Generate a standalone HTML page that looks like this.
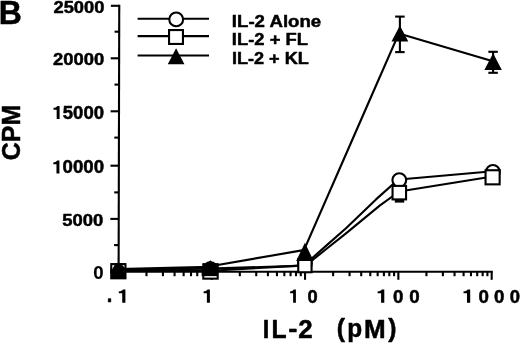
<!DOCTYPE html>
<html><head><meta charset="utf-8"><style>
html,body{margin:0;padding:0;background:#fff;width:520px;height:344px;overflow:hidden}
svg{display:block;will-change:transform}
</style></head><body>
<svg width="520" height="344" viewBox="0 0 520 344">
<rect width="520" height="344" fill="#fff"/>
<g stroke="#000" stroke-width="2.1" fill="none" stroke-linecap="butt">
<line x1="119.25" y1="4.75" x2="118.6" y2="272.8" />
<line x1="118" y1="271.8" x2="492.8" y2="271.8" />
<line x1="110.85" y1="5.8" x2="119.25" y2="5.8" />
<line x1="110.72" y1="58.3" x2="119.12" y2="58.3" />
<line x1="110.59" y1="111.3" x2="118.99" y2="111.3" />
<line x1="110.46" y1="165.7" x2="118.86" y2="165.7" />
<line x1="110.33" y1="218.9" x2="118.73" y2="218.9" />
<line x1="110.20" y1="272" x2="118.60" y2="272" />
<line x1="114.58" y1="31.7" x2="119.18" y2="31.7" />
<line x1="114.46" y1="84.6" x2="119.06" y2="84.6" />
<line x1="114.33" y1="137.6" x2="118.93" y2="137.6" />
<line x1="114.19" y1="192.4" x2="118.79" y2="192.4" />
<line x1="114.07" y1="245.1" x2="118.67" y2="245.1" />
<line x1="211.72" y1="271.8" x2="211.72" y2="279.8" />
<line x1="305.04" y1="271.8" x2="305.04" y2="279.8" />
<line x1="398.36" y1="271.8" x2="398.36" y2="279.8" />
<line x1="491.68" y1="271.8" x2="491.68" y2="279.8" />
<line x1="146.49" y1="271.8" x2="146.49" y2="276.2" />
<line x1="162.92" y1="271.8" x2="162.92" y2="276.2" />
<line x1="174.58" y1="271.8" x2="174.58" y2="276.2" />
<line x1="183.63" y1="271.8" x2="183.63" y2="276.2" />
<line x1="191.02" y1="271.8" x2="191.02" y2="276.2" />
<line x1="197.26" y1="271.8" x2="197.26" y2="276.2" />
<line x1="202.68" y1="271.8" x2="202.68" y2="276.2" />
<line x1="207.45" y1="271.8" x2="207.45" y2="276.2" />
<line x1="239.81" y1="271.8" x2="239.81" y2="276.2" />
<line x1="256.24" y1="271.8" x2="256.24" y2="276.2" />
<line x1="267.90" y1="271.8" x2="267.90" y2="276.2" />
<line x1="276.95" y1="271.8" x2="276.95" y2="276.2" />
<line x1="284.34" y1="271.8" x2="284.34" y2="276.2" />
<line x1="290.58" y1="271.8" x2="290.58" y2="276.2" />
<line x1="296.00" y1="271.8" x2="296.00" y2="276.2" />
<line x1="300.77" y1="271.8" x2="300.77" y2="276.2" />
<line x1="333.13" y1="271.8" x2="333.13" y2="276.2" />
<line x1="349.56" y1="271.8" x2="349.56" y2="276.2" />
<line x1="361.22" y1="271.8" x2="361.22" y2="276.2" />
<line x1="370.27" y1="271.8" x2="370.27" y2="276.2" />
<line x1="377.66" y1="271.8" x2="377.66" y2="276.2" />
<line x1="383.90" y1="271.8" x2="383.90" y2="276.2" />
<line x1="389.32" y1="271.8" x2="389.32" y2="276.2" />
<line x1="394.09" y1="271.8" x2="394.09" y2="276.2" />
<line x1="426.45" y1="271.8" x2="426.45" y2="276.2" />
<line x1="442.88" y1="271.8" x2="442.88" y2="276.2" />
<line x1="454.54" y1="271.8" x2="454.54" y2="276.2" />
<line x1="463.59" y1="271.8" x2="463.59" y2="276.2" />
<line x1="470.98" y1="271.8" x2="470.98" y2="276.2" />
<line x1="477.22" y1="271.8" x2="477.22" y2="276.2" />
<line x1="482.64" y1="271.8" x2="482.64" y2="276.2" />
<line x1="487.41" y1="271.8" x2="487.41" y2="276.2" />
<line x1="137.6" y1="18.7" x2="209" y2="18.7" />
<line x1="137.6" y1="36.1" x2="209" y2="36.1" />
<line x1="137.6" y1="55.5" x2="209" y2="55.5" />
</g>
<g stroke="#000" stroke-width="2.1" fill="none" stroke-linejoin="round">
<polyline fill="none" points="118.3,269.8 210.4,268.6 304.9,265.6" />
<polyline fill="none" points="304.9,264.6 326,245.9 346,228.3 376,199.4 399.4,178.5" />
<polyline fill="none" points="399.4,179.5 492.9,171.3" />
<polyline fill="none" points="118.3,270.5 210.4,270.8 304.9,265.4" />
<polyline fill="none" points="304.9,266.0 326,249.3 346,233.4 380,205.4 399.3,191.5" />
<polyline fill="none" points="399.2,191.5 492.6,176.5" />
<polyline fill="none" points="118.3,269.0 210.4,266.8" />
<polyline fill="none" points="210.4,266.2 304.9,249.9" />
<polyline fill="none" points="304.9,248.0 399.7,31.5" />
<polyline fill="none" points="399.7,33.8 492.9,61.3" />
</g>
<g stroke="#000" stroke-width="2.1" fill="none">
<line x1="399.9" y1="16.6" x2="399.9" y2="52.1" /><line x1="395.15" y1="16.6" x2="404.65" y2="16.6" /><line x1="395.15" y1="52.1" x2="404.65" y2="52.1" />
<line x1="493.1" y1="51.8" x2="493.1" y2="72.8" /><line x1="488.35" y1="51.8" x2="497.85" y2="51.8" /><line x1="488.35" y1="72.8" x2="497.85" y2="72.8" />
<rect x="394.8" y="199.4" width="9.4" height="3.2" fill="#000" stroke="none"/>
</g>
<circle cx="118.3" cy="270.8" r="6.9" fill="#fff" stroke="#000" stroke-width="2.1"/>
<circle cx="210.4" cy="269.2" r="6.9" fill="#fff" stroke="#000" stroke-width="2.1"/>
<circle cx="304.9" cy="263.5" r="6.9" fill="#fff" stroke="#000" stroke-width="2.1"/>
<circle cx="399.3" cy="180.1" r="6.9" fill="#fff" stroke="#000" stroke-width="2.1"/>
<circle cx="492.9" cy="171.9" r="6.9" fill="#fff" stroke="#000" stroke-width="2.1"/>
<rect x="111.25" y="264.10" width="14.20" height="14.20" fill="#fff" stroke="#000" stroke-width="2.1"/>
<rect x="203.30" y="264.25" width="14.40" height="14.40" fill="#fff" stroke="#000" stroke-width="2.1"/>
<rect x="298.25" y="258.95" width="13.30" height="13.30" fill="#fff" stroke="#000" stroke-width="2.1"/>
<rect x="392.55" y="185.90" width="13.50" height="13.50" fill="#fff" stroke="#000" stroke-width="2.1"/>
<rect x="485.55" y="170.25" width="14.10" height="14.10" fill="#fff" stroke="#000" stroke-width="2.1"/>
<polygon points="115.2,264.0 121.3,264.0 125.5,268.6 125.5,278.5 111.2,278.5 111.2,270.8" fill="#000"/>
<rect x="203.2" y="263.5" width="14.6" height="12.6" fill="#000"/>
<polygon points="210.3,260.2 203.3,268 217.3,268" fill="#000"/>
<polygon points="304.9,242.8 296.15,261.0 313.65,261.0" fill="#000"/>
<polygon points="399.9,25.5 391.5,41.6 408.29999999999995,41.6" fill="#000"/>
<polygon points="493.1,53.2 484.35,69.9 501.85,69.9" fill="#000"/>
<circle cx="176.2" cy="19.4" r="6.9" fill="#fff" stroke="#000" stroke-width="2.1"/>
<rect x="169.05" y="30.05" width="13.90" height="13.90" fill="#fff" stroke="#000" stroke-width="2.1"/>
<polygon points="176.1,48.3 167.75,64.2 184.45,64.2" fill="#000"/>
<g fill="#000">
<text font-family="&quot;Liberation Sans&quot;, sans-serif" font-weight="bold" font-size="100" stroke="#000" stroke-width="1.52" stroke-linejoin="round" transform="translate(-1.24,24.25) scale(0.3197,0.3370)" xml:space="preserve">B</text>
<text font-family="&quot;Liberation Sans&quot;, sans-serif" font-weight="bold" font-size="100" stroke="#000" stroke-width="1.94" stroke-linejoin="round" transform="translate(20.38,160.25) rotate(-90) scale(0.2495,0.2662)">CPM</text>
<text font-family="&quot;Liberation Sans&quot;, sans-serif" font-weight="bold" font-size="100" stroke="#000" stroke-width="2.86" stroke-linejoin="round" transform="translate(53.45,12.78) scale(0.1832,0.1662)" xml:space="preserve">25000</text>
<text font-family="&quot;Liberation Sans&quot;, sans-serif" font-weight="bold" font-size="100" stroke="#000" stroke-width="2.83" stroke-linejoin="round" transform="translate(53.00,65.18) scale(0.1843,0.1690)" xml:space="preserve">20000</text>
<text font-family="&quot;Liberation Sans&quot;, sans-serif" font-weight="bold" font-size="100" stroke="#000" stroke-width="2.85" stroke-linejoin="round" transform="translate(62.30,226.48) scale(0.1847,0.1662)" xml:space="preserve">5000</text>
<text font-family="&quot;Liberation Sans&quot;, sans-serif" font-weight="bold" font-size="100" stroke="#000" stroke-width="0.83" stroke-linejoin="round" transform="translate(93.23,278.85) scale(0.1862,0.1768)" xml:space="preserve">0</text>
<path d="M59.60,105.90 L59.60,118.90 L56.67,118.90 L56.67,109.67 L53.50,109.67 L53.50,107.85 C54.84,107.72 56.67,107.20 57.40,105.90 Z"/>
<text font-family="&quot;Liberation Sans&quot;, sans-serif" font-weight="bold" font-size="100" stroke="#000" stroke-width="2.74" stroke-linejoin="round" transform="translate(62.79,118.67) scale(0.1856,0.1789)" xml:space="preserve">5000</text>
<path d="M59.40,160.50 L59.40,173.40 L56.47,173.40 L56.47,164.24 L53.30,164.24 L53.30,162.44 C54.64,162.31 56.47,161.79 57.20,160.50 Z"/>
<text font-family="&quot;Liberation Sans&quot;, sans-serif" font-weight="bold" font-size="100" stroke="#000" stroke-width="2.75" stroke-linejoin="round" transform="translate(62.60,173.17) scale(0.1864,0.1775)" xml:space="preserve">0000</text>
<text font-family="&quot;Liberation Sans&quot;, sans-serif" font-weight="bold" font-size="100" stroke="#000" stroke-width="2.38" stroke-linejoin="round" transform="translate(106.85,302.15) scale(0.2000,0.2200)" xml:space="preserve">.</text>
<path d="M125.40,289.40 L125.40,302.80 L122.23,302.80 L122.23,293.29 L118.80,293.29 L118.80,291.41 C120.25,291.28 122.23,290.74 123.02,289.40 Z"/>
<path d="M209.90,289.40 L209.90,302.80 L206.88,302.80 L206.88,293.29 L203.60,293.29 L203.60,291.41 C204.99,291.28 206.88,290.74 207.63,289.40 Z"/>
<path d="M295.90,289.40 L295.90,302.80 L293.12,302.80 L293.12,293.29 L290.10,293.29 L290.10,291.41 C291.38,291.28 293.12,290.74 293.81,289.40 Z"/>
<path d="M384.30,289.40 L384.30,302.80 L381.08,302.80 L381.08,293.29 L377.60,293.29 L377.60,291.41 C379.07,291.28 381.08,290.74 381.89,289.40 Z"/>
<path d="M470.20,289.40 L470.20,302.80 L466.98,302.80 L466.98,293.29 L463.50,293.29 L463.50,291.41 C464.97,291.28 466.98,290.74 467.79,289.40 Z"/>
<text font-family="&quot;Liberation Sans&quot;, sans-serif" font-weight="bold" font-size="100" stroke="#000" stroke-width="2.70" stroke-linejoin="round" transform="translate(307.42,302.56) scale(0.1830,0.1873)" xml:space="preserve">0</text>
<text font-family="&quot;Liberation Sans&quot;, sans-serif" font-weight="bold" font-size="100" stroke="#000" stroke-width="2.67" stroke-linejoin="round" transform="translate(393.00,302.56) scale(0.1872,0.1873)" xml:space="preserve">0</text>
<text font-family="&quot;Liberation Sans&quot;, sans-serif" font-weight="bold" font-size="100" stroke="#000" stroke-width="2.67" stroke-linejoin="round" transform="translate(409.20,302.56) scale(0.1872,0.1873)" xml:space="preserve">0</text>
<text font-family="&quot;Liberation Sans&quot;, sans-serif" font-weight="bold" font-size="100" stroke="#000" stroke-width="2.67" stroke-linejoin="round" transform="translate(478.40,302.56) scale(0.1872,0.1873)" xml:space="preserve">0</text>
<text font-family="&quot;Liberation Sans&quot;, sans-serif" font-weight="bold" font-size="100" stroke="#000" stroke-width="2.67" stroke-linejoin="round" transform="translate(494.00,302.56) scale(0.1872,0.1873)" xml:space="preserve">0</text>
<text font-family="&quot;Liberation Sans&quot;, sans-serif" font-weight="bold" font-size="100" stroke="#000" stroke-width="2.69" stroke-linejoin="round" transform="translate(509.81,302.56) scale(0.1851,0.1873)" xml:space="preserve">0</text>
<text font-family="&quot;Liberation Sans&quot;, sans-serif" font-weight="bold" font-size="100" stroke="#000" stroke-width="2.00" stroke-linejoin="round" transform="translate(262.70,337.55) scale(0.2357,0.2638)" xml:space="preserve">I</text>
<text font-family="&quot;Liberation Sans&quot;, sans-serif" font-weight="bold" font-size="100" stroke="#000" stroke-width="1.96" stroke-linejoin="round" transform="translate(271.62,337.55) scale(0.2471,0.2638)" xml:space="preserve">L</text>
<text font-family="&quot;Liberation Sans&quot;, sans-serif" font-weight="bold" font-size="100" stroke="#000" stroke-width="1.87" stroke-linejoin="round" transform="translate(288.15,337.42) scale(0.2760,0.2583)" xml:space="preserve">-</text>
<text font-family="&quot;Liberation Sans&quot;, sans-serif" font-weight="bold" font-size="100" stroke="#000" stroke-width="1.92" stroke-linejoin="round" transform="translate(298.37,337.55) scale(0.2592,0.2614)" xml:space="preserve">2</text>
<text font-family="&quot;Liberation Sans&quot;, sans-serif" font-weight="bold" font-size="100" stroke="#000" stroke-width="2.01" stroke-linejoin="round" transform="translate(336.82,337.38) scale(0.2464,0.2511)" xml:space="preserve">(</text>
<text font-family="&quot;Liberation Sans&quot;, sans-serif" font-weight="bold" font-size="100" stroke="#000" stroke-width="2.02" stroke-linejoin="round" transform="translate(347.34,337.39) scale(0.2440,0.2507)" xml:space="preserve">p</text>
<text font-family="&quot;Liberation Sans&quot;, sans-serif" font-weight="bold" font-size="100" stroke="#000" stroke-width="1.91" stroke-linejoin="round" transform="translate(364.03,337.65) scale(0.2600,0.2638)" xml:space="preserve">M</text>
<text font-family="&quot;Liberation Sans&quot;, sans-serif" font-weight="bold" font-size="100" stroke="#000" stroke-width="2.00" stroke-linejoin="round" transform="translate(388.25,337.33) scale(0.2464,0.2532)" xml:space="preserve">)</text>
<text font-family="&quot;Liberation Sans&quot;, sans-serif" font-weight="bold" font-size="100" stroke="#000" stroke-width="2.83" stroke-linejoin="round" transform="translate(231.85,27.18) scale(0.1864,0.1676)" xml:space="preserve">IL-2 Alone</text>
<text font-family="&quot;Liberation Sans&quot;, sans-serif" font-weight="bold" font-size="100" stroke="#000" stroke-width="2.82" stroke-linejoin="round" transform="translate(231.86,45.15) scale(0.1842,0.1700)" xml:space="preserve">IL-2 + FL</text>
<text font-family="&quot;Liberation Sans&quot;, sans-serif" font-weight="bold" font-size="100" stroke="#000" stroke-width="2.84" stroke-linejoin="round" transform="translate(231.88,63.65) scale(0.1812,0.1714)" xml:space="preserve">IL-2 + KL</text>
</g>
</svg>
</body></html>
